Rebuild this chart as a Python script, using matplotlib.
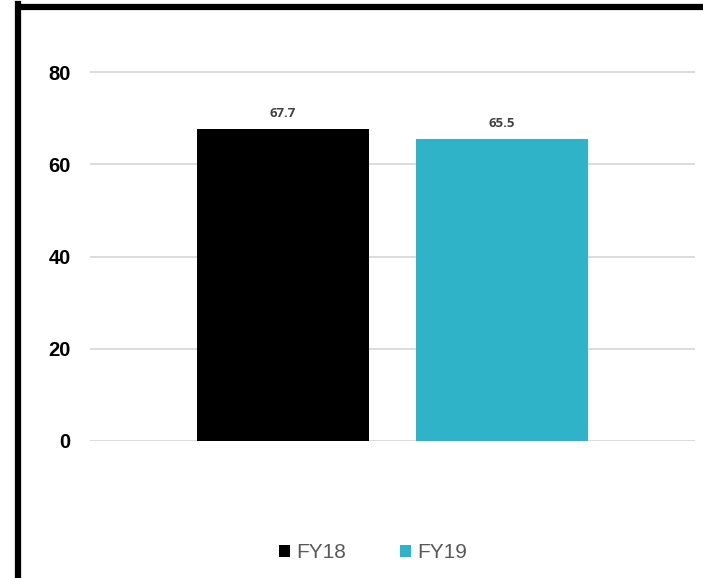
import matplotlib
matplotlib.use("Agg")
import matplotlib.pyplot as plt
from matplotlib.lines import Line2D

series = ["FY18", "FY19"]
values = [67.7, 65.5]
colors = ["#000000", "#2FB3C8"]
yticks = [0, 20, 40, 60, 80]

fig = plt.figure(figsize=(7.03, 5.78), dpi=100)
ax = fig.add_axes([90/703, (578-441)/578, 605/703, 415/578])

width = 0.5686
offsets = [-0.362, 0.362]
for s, v, c, o in zip(series, values, colors, offsets):
    ax.bar(o, v, width=width, color=c, label=s, zorder=3)
    ax.text(o, v + 3.4, f"{v:.1f}", ha="center", va="center",
            fontsize=9.5, fontweight="bold", color="#404040", family="Open Sans")

ax.set_xlim(-1, 1)
ax.set_ylim(0, 90)
ax.set_yticks(yticks)
ax.set_yticklabels([str(t) for t in yticks], fontsize=14.5, fontweight="bold",
                   family="Liberation Sans", color="black")
ax.tick_params(axis="y", length=0, pad=14)
ax.set_xticks([])
for sp in ax.spines.values():
    sp.set_visible(False)
for t in yticks:
    ax.axhline(t, color="#D9D9D9", lw=1.3, zorder=1)

leg = fig.legend(loc="center", bbox_to_anchor=(373/703, 1 - 553/578), ncol=2,
                 frameon=False, handlelength=0.52, handleheight=0.52,
                 handletextpad=0.3, columnspacing=2.6,
                 prop={"family": "Liberation Sans", "size": 15})
for t in leg.get_texts():
    t.set_color("#595959")

# outer border (left and top only)
fig.add_artist(Line2D([18/703, 18/703], [0, 1 - 4/578], transform=fig.transFigure,
                      color="black", lw=4.5, solid_capstyle="projecting"))
fig.add_artist(Line2D([18/703, 1], [1 - 7/578, 1 - 7/578], transform=fig.transFigure,
                      color="black", lw=4.5, solid_capstyle="butt"))

fig.savefig("out.png", dpi=100)
